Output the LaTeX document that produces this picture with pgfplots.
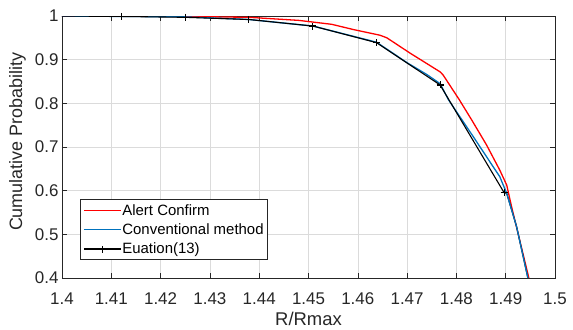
\documentclass[border=0pt]{standalone}
\usepackage{pgfplots}
\pgfplotsset{compat=1.18}
\usepackage{fontspec}
\setmainfont{Liberation Sans}
\definecolor{mblue}{rgb}{0,0.447,0.741}
\definecolor{axgray}{rgb}{0.15,0.15,0.15}
\begin{document}
\begin{tikzpicture}
\useasboundingbox (-62bp,-52bp) rectangle (511bp,278bp);
\begin{axis}[
  at={(0,0)}, anchor=south west,
  scale only axis, width=493bp, height=262bp,
  xmin=1.4, xmax=1.5, ymin=0.4, ymax=1,
  xtick={1.4,1.41,1.42,1.43,1.44,1.45,1.46,1.47,1.48,1.49,1.5},
  ytick={0.4,0.5,0.6,0.7,0.8,0.9,1},
  xticklabels={1.4,1.41,1.42,1.43,1.44,1.45,1.46,1.47,1.48,1.49,1.5},
  yticklabels={0.4,0.5,0.6,0.7,0.8,0.9,1},
  /pgf/number format/assume math mode=true,
  grid=major, major grid style={gray!28, line width=0.6bp},
  tick align=inside, major tick length=5bp,
  tick style={axgray, line width=0.6bp},
  axis line style={axgray, line width=0.8bp},
  xticklabel style={font=\fontsize{17}{20}\selectfont, text=axgray, anchor=base, yshift=-26bp},
  yticklabel style={font=\fontsize{17}{20}\selectfont, text=axgray},
  xlabel={R/Rmax}, ylabel={Cumulative Probability},
  xlabel style={font=\fontsize{18.5}{22}\selectfont, text=axgray, at={(axis description cs:0.5,0)}, anchor=base, yshift=-47.5bp},
  ylabel style={font=\fontsize{18}{22}\selectfont, text=axgray, at={(axis description cs:-0.0811,0.52)}, anchor=base},
  legend cell align=left,
  legend style={at={(0.0365,0.0687)}, anchor=south west, draw=axgray, line width=0.6bp,
    font=\fontsize{15}{17}\selectfont, inner xsep=3bp, inner ysep=3.5bp, row sep=5bp,
    nodes={inner sep=1bp, text=black}},
  clip=true,
]
\addlegendimage{legend image code/.code={\draw[red, line width=1.1bp] (0bp,0bp) -- (37bp,0bp);}}
\addlegendentry{Alert Confirm}
\addlegendimage{legend image code/.code={\draw[mblue, line width=1.1bp] (0bp,0bp) -- (37bp,0bp);}}
\addlegendentry{Conventional method}
\addlegendimage{legend image code/.code={\draw[black, line width=1.1bp] (0bp,0bp) -- (37bp,0bp);
   \draw[black, line width=1.1bp] (18.5bp,-3.5bp) -- (18.5bp,3.5bp) (15bp,0bp) -- (22bp,0bp);}}
\addlegendentry{Euation(13)}
\addplot[red, line width=1.3bp, forget plot] coordinates {
(1.4,1.0) (1.412,1.0) (1.425,0.999) (1.4379,0.997) (1.448,0.990) (1.4547,0.981)
(1.4591,0.969) (1.4645,0.956) (1.4659,0.950) (1.4706,0.915) (1.4767,0.872)
(1.4773,0.865) (1.4806,0.808) (1.4831,0.762) (1.4861,0.705) (1.4888,0.647)
(1.4902,0.613) (1.4912,0.563) (1.4947,0.4)
};
\addplot[black, line width=1.1bp, forget plot] coordinates {
(1.4897,0.595) (1.4902,0.594) (1.4922,0.518) (1.4945,0.4)
};
\addplot[mblue, line width=1.3bp, forget plot] coordinates {
(1.4,1.0) (1.4121,0.999) (1.425,0.998) (1.4379,0.992) (1.4509,0.977) (1.4638,0.940)
(1.4700,0.893) (1.4740,0.866) (1.4767,0.845) (1.4784,0.808) (1.4834,0.724)
(1.4868,0.666) (1.4888,0.632) (1.4902,0.594) (1.4922,0.518) (1.4945,0.4)
};
\addplot[black, line width=1.1bp, mark=+, mark size=3.5bp, mark indices={2,3,4,5,6,7,8}, forget plot] coordinates {
(1.4,1.0) (1.4121,0.999) (1.425,0.997) (1.4379,0.992) (1.4509,0.977) (1.4638,0.939)
(1.4767,0.842) (1.4897,0.595)
};
\end{axis}
\end{tikzpicture}
\end{document}
